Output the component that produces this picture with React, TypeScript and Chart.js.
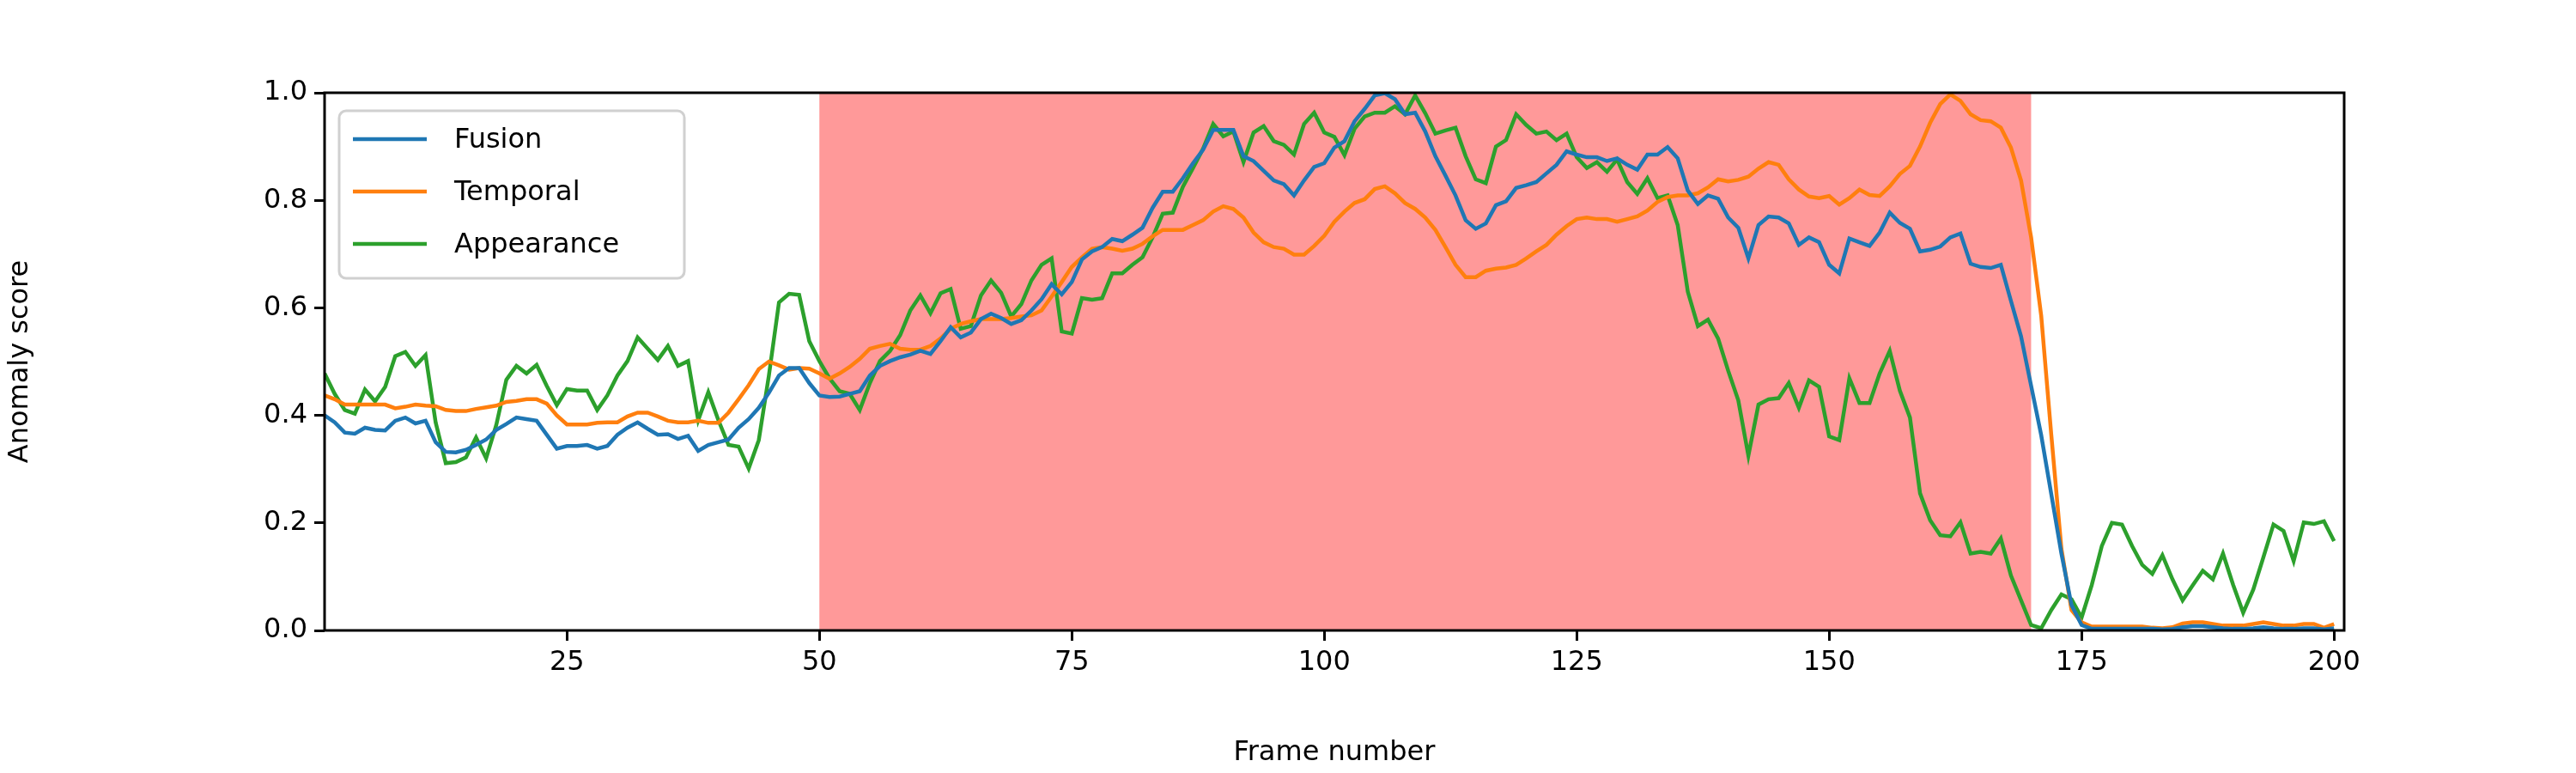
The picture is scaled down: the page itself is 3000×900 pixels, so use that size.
import React, { useRef, useEffect } from 'react';
import Chart from 'chart.js/auto';
import type { Plugin } from 'chart.js';

// frame numbers 1..200
const frames: number[] = Array.from({ length: 200 }, (_, i) => i + 1);

const fusion: number[] = [
  0.400, 0.387, 0.368, 0.366, 0.377, 0.373, 0.372, 0.390, 0.396, 0.385,
  0.390, 0.350, 0.332, 0.331, 0.336, 0.345, 0.355, 0.373, 0.384, 0.396,
  0.393, 0.390, 0.364, 0.338, 0.343, 0.343, 0.345, 0.338, 0.343, 0.364,
  0.377, 0.387, 0.375, 0.364, 0.365, 0.356, 0.362, 0.334, 0.345, 0.350,
  0.355, 0.377, 0.393, 0.414, 0.442, 0.474, 0.488, 0.488, 0.460, 0.437,
  0.434, 0.435, 0.440, 0.445, 0.474, 0.492, 0.501, 0.508, 0.513, 0.520,
  0.514, 0.538, 0.564, 0.545, 0.554, 0.579, 0.589, 0.581, 0.570, 0.577,
  0.595, 0.616, 0.644, 0.625, 0.648, 0.690, 0.705, 0.713, 0.728, 0.724,
  0.736, 0.749, 0.786, 0.816, 0.816, 0.841, 0.869, 0.894, 0.931, 0.931,
  0.931, 0.882, 0.873, 0.855, 0.837, 0.830, 0.809, 0.837, 0.862, 0.869,
  0.898, 0.910, 0.947, 0.970, 0.995, 0.999, 0.988, 0.960, 0.963, 0.928,
  0.882, 0.846, 0.809, 0.763, 0.747, 0.757, 0.791, 0.798, 0.823, 0.828,
  0.834, 0.850, 0.866, 0.891, 0.885, 0.880, 0.880, 0.873, 0.878, 0.866,
  0.857, 0.885, 0.885, 0.899, 0.878, 0.818, 0.793, 0.809, 0.803, 0.768,
  0.749, 0.692, 0.754, 0.770, 0.768, 0.757, 0.717, 0.731, 0.722, 0.680,
  0.664, 0.729, 0.722, 0.715, 0.740, 0.777, 0.758, 0.747, 0.705, 0.708,
  0.714, 0.731, 0.738, 0.682, 0.676, 0.674, 0.680, 0.613, 0.547, 0.455,
  0.363, 0.253, 0.143, 0.047, 0.010, 0.003, 0.003, 0.003, 0.003, 0.003,
  0.003, 0.003, 0.002, 0.003, 0.006, 0.008, 0.008, 0.006, 0.004, 0.003,
  0.003, 0.004, 0.006, 0.004, 0.003, 0.003, 0.004, 0.004, 0.002, 0.004
];

const temporal: number[] = [
  0.437, 0.430, 0.420, 0.420, 0.420, 0.420, 0.420, 0.413, 0.416, 0.420,
  0.418, 0.417, 0.410, 0.408, 0.408, 0.412, 0.415, 0.418, 0.425, 0.427,
  0.430, 0.430, 0.422, 0.400, 0.383, 0.383, 0.383, 0.386, 0.387, 0.387,
  0.398, 0.405, 0.405, 0.398, 0.390, 0.387, 0.387, 0.390, 0.386, 0.386,
  0.405, 0.430, 0.456, 0.486, 0.500, 0.493, 0.485, 0.488, 0.487, 0.478,
  0.468, 0.478, 0.490, 0.505, 0.524, 0.529, 0.533, 0.524, 0.522, 0.522,
  0.529, 0.543, 0.561, 0.570, 0.575, 0.579, 0.579, 0.579, 0.581, 0.584,
  0.586, 0.595, 0.621, 0.648, 0.676, 0.694, 0.710, 0.713, 0.710, 0.706,
  0.710, 0.719, 0.733, 0.745, 0.745, 0.745, 0.754, 0.763, 0.779, 0.789,
  0.784, 0.768, 0.740, 0.722, 0.713, 0.710, 0.699, 0.699, 0.715, 0.734,
  0.760, 0.779, 0.795, 0.802, 0.821, 0.826, 0.813, 0.795, 0.784, 0.768,
  0.745, 0.713, 0.680, 0.657, 0.657, 0.669, 0.673, 0.675, 0.680, 0.692,
  0.705, 0.717, 0.736, 0.752, 0.765, 0.768, 0.765, 0.765, 0.760, 0.765,
  0.770, 0.781, 0.797, 0.806, 0.809, 0.809, 0.813, 0.824, 0.839, 0.835,
  0.838, 0.844, 0.859, 0.871, 0.866, 0.839, 0.820, 0.807, 0.804, 0.808,
  0.792, 0.804, 0.820, 0.810, 0.808, 0.826, 0.849, 0.864, 0.900, 0.944,
  0.979, 0.997, 0.985, 0.960, 0.949, 0.947, 0.935, 0.898, 0.837, 0.731,
  0.585, 0.363, 0.152, 0.038, 0.015, 0.007, 0.007, 0.007, 0.007, 0.007,
  0.007, 0.005, 0.004, 0.006, 0.013, 0.015, 0.015, 0.012, 0.009, 0.009,
  0.009, 0.012, 0.015, 0.012, 0.009, 0.009, 0.012, 0.012, 0.005, 0.012
];

const appearance: number[] = [
  0.478, 0.440, 0.410, 0.403, 0.448, 0.426, 0.453, 0.510, 0.518, 0.492,
  0.512, 0.387, 0.311, 0.313, 0.322, 0.359, 0.320, 0.382, 0.466, 0.492,
  0.478, 0.494, 0.455, 0.419, 0.449, 0.446, 0.446, 0.410, 0.437, 0.474,
  0.501, 0.545, 0.524, 0.503, 0.529, 0.492, 0.501, 0.391, 0.443, 0.391,
  0.345, 0.342, 0.301, 0.354, 0.474, 0.610, 0.626, 0.624, 0.538, 0.501,
  0.469, 0.445, 0.440, 0.410, 0.460, 0.501, 0.520, 0.549, 0.595, 0.623,
  0.590, 0.627, 0.635, 0.561, 0.566, 0.623, 0.651, 0.628, 0.584, 0.607,
  0.651, 0.680, 0.692, 0.556, 0.552, 0.618, 0.615, 0.618, 0.664, 0.664,
  0.680, 0.694, 0.731, 0.775, 0.777, 0.825, 0.860, 0.896, 0.942, 0.919,
  0.928, 0.871, 0.926, 0.938, 0.910, 0.903, 0.885, 0.942, 0.963, 0.926,
  0.918, 0.884, 0.933, 0.956, 0.963, 0.963, 0.975, 0.960, 0.995, 0.962,
  0.924, 0.930, 0.935, 0.882, 0.839, 0.832, 0.900, 0.912, 0.960, 0.940,
  0.924, 0.928, 0.912, 0.924, 0.880, 0.860, 0.871, 0.853, 0.876, 0.834,
  0.812, 0.841, 0.804, 0.809, 0.754, 0.630, 0.566, 0.578, 0.543, 0.483,
  0.428, 0.325, 0.420, 0.430, 0.432, 0.460, 0.414, 0.465, 0.453, 0.361,
  0.354, 0.469, 0.423, 0.423, 0.478, 0.520, 0.446, 0.396, 0.255, 0.205,
  0.177, 0.175, 0.201, 0.143, 0.146, 0.143, 0.171, 0.102, 0.056, 0.010,
  0.004, 0.038, 0.067, 0.058, 0.024, 0.084, 0.157, 0.200, 0.197, 0.157,
  0.122, 0.105, 0.140, 0.095, 0.056, 0.084, 0.111, 0.095, 0.143, 0.085,
  0.033, 0.076, 0.136, 0.197, 0.185, 0.129, 0.201, 0.198, 0.203, 0.166
];

const seriesNames = ['Fusion', 'Temporal', 'Appearance'];
const seriesColors = ['#1f77b4', '#ff7f0e', '#2ca02c'];
const xTicks = [25, 50, 75, 100, 125, 150, 175, 200];
const anomalyRange = [50, 170];

const FONT = '"DejaVu Sans", sans-serif';

// shaded anomaly span, axes frame and the legend box
const decorPlugin: Plugin<'line'> = {
  id: 'decor',
  beforeDatasetsDraw(chart) {
    const { ctx, chartArea, scales } = chart;
    const x0 = scales.x.getPixelForValue(anomalyRange[0]);
    const x1 = scales.x.getPixelForValue(anomalyRange[1]);
    ctx.save();
    ctx.fillStyle = '#ff9999';
    ctx.fillRect(x0, chartArea.top, x1 - x0, chartArea.bottom - chartArea.top);
    ctx.restore();
  },
  afterDraw(chart) {
    const { ctx, chartArea: a } = chart;
    ctx.save();
    ctx.strokeStyle = '#000';
    ctx.lineWidth = 3;
    ctx.strokeRect(a.left, a.top, a.right - a.left, a.bottom - a.top);

    // legend
    const bx = a.left + 17, by = a.top + 21, bw = 402, bh = 195;
    ctx.fillStyle = 'rgba(255,255,255,0.8)';
    ctx.strokeStyle = '#d0d0d0';
    ctx.lineWidth = 3;
    ctx.beginPath();
    ctx.roundRect(bx, by, bw, bh, 8);
    ctx.fill();
    ctx.stroke();
    ctx.font = `32px ${FONT}`;
    ctx.textBaseline = 'middle';
    seriesNames.forEach((name, i) => {
      const y = by + 33 + i * 61;
      ctx.strokeStyle = seriesColors[i];
      ctx.lineWidth = 4.5;
      ctx.beginPath();
      ctx.moveTo(bx + 16, y);
      ctx.lineTo(bx + 102, y);
      ctx.stroke();
      ctx.fillStyle = '#000';
      ctx.fillText(name, bx + 134, y + 2);
    });
    ctx.restore();
  }
};

const App: React.FC = () => {
  const canvasRef = useRef<HTMLCanvasElement | null>(null);

  useEffect(() => {
    document.body.style.margin = '0';
    const ctx = canvasRef.current?.getContext('2d');
    if (!ctx) return;

    const data = [fusion, temporal, appearance];
    const chart = new Chart(ctx, {
      type: 'line',
      data: {
        datasets: seriesNames.map((name, i) => ({
          label: name,
          data: frames.map((f, j) => ({ x: f, y: data[i][j] })),
          borderColor: seriesColors[i],
          borderWidth: 4.5,
          pointRadius: 0,
          tension: 0
        }))
      },
      options: {
        animation: false,
        responsive: false,
        devicePixelRatio: 1,
        layout: { padding: { left: 0, right: 270, top: 108, bottom: 0 } },
        plugins: { legend: { display: false }, tooltip: { enabled: false } },
        scales: {
          x: {
            type: 'linear',
            min: 1,
            max: 201,
            afterBuildTicks: (scale: any) => { scale.ticks = xTicks.map(v => ({ value: v })); },
            afterFit: (scale: any) => { scale.height = 166; },
            grid: { drawOnChartArea: false, color: '#000', lineWidth: 3, tickLength: 12, tickWidth: 3 },
            border: { display: false },
            ticks: { color: '#000', font: { family: FONT, size: 32 }, maxRotation: 0, padding: 6 },
            title: { display: true, text: 'Frame number', color: '#000', font: { family: FONT, size: 32 }, padding: { top: 8 } }
          },
          y: {
            min: 0,
            max: 1,
            afterFit: (scale: any) => { scale.width = 378; },
            grid: { drawOnChartArea: false, color: '#000', lineWidth: 3, tickLength: 12, tickWidth: 3 },
            border: { display: false },
            ticks: {
              stepSize: 0.2,
              color: '#000',
              font: { family: FONT, size: 32 },
              padding: 8,
              callback: (v: any) => Number(v).toFixed(1)
            },
            title: { display: true, text: 'Anomaly score', color: '#000', font: { family: FONT, size: 32 }, padding: { bottom: 14 } }
          }
        }
      },
      plugins: [decorPlugin]
    });

    return () => chart.destroy();
  }, []);

  return (
    <div style={{ width: 3000, height: 900, background: '#fff' }}>
      <canvas ref={canvasRef} width={3000} height={900} />
    </div>
  );
};

export default App;
